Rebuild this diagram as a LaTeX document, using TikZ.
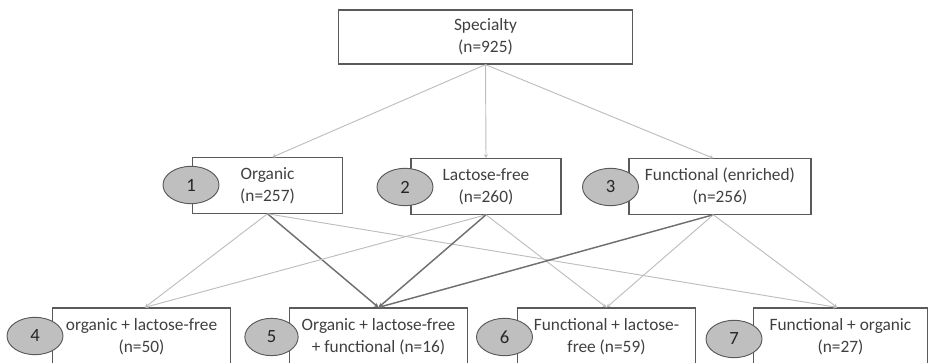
\documentclass[tikz,border=0pt]{standalone}
\usepackage{fontspec}
\setmainfont{Carlito}
\usetikzlibrary{shapes.geometric,arrows.meta}
\definecolor{txt}{HTML}{404040}
\definecolor{boxline}{HTML}{5A5A5A}
\definecolor{lightcon}{HTML}{BDBDBD}
\definecolor{darkcon}{HTML}{707070}
\definecolor{ellfill}{HTML}{BFBFBF}
\begin{document}
\begin{tikzpicture}[x=0.75pt,y=-0.75pt,
  catbox/.style={draw=boxline,line width=0.9pt,fill=white,align=center,text=txt,
    font=\fontsize{13}{16.3}\selectfont,inner sep=0pt,minimum height=41.5pt},
  numell/.style={ellipse,draw=boxline,line width=0.7pt,fill=ellfill,inner sep=0pt,
    minimum width=42pt,minimum height=28pt,font=\fontsize{14}{16}\selectfont,text=black!85},
  lcon/.style={draw=lightcon,line width=0.7pt,-{Stealth[length=3pt,width=3pt]}},
  dcon/.style={draw=darkcon,line width=1.1pt,-{Stealth[length=3.5pt,width=3.5pt]}}]
\useasboundingbox (0,0) rectangle (930,363);
\clip (0,0) rectangle (930,363);
% top
\node[catbox,minimum width=221pt,minimum height=40.5pt] (spec) at (485.5,37) {Specialty\\(n=925)};
% middle
\node[catbox,minimum width=112pt] (org) at (267.5,185.5) {Organic\\(n=257)};
\node[catbox,minimum width=112.5pt] (lac) at (486,186.5) {Lactose-free\\(n=260)};
\node[catbox,minimum width=136.5pt] (fun) at (720,186.5) {Functional (enriched)\\(n=256)};
% bottom
\node[catbox,minimum width=133pt,minimum height=43.5pt] (b4) at (141.5,337) {organic + lactose-free\\(n=50)};
\node[catbox,minimum width=133pt,minimum height=43.5pt] (b5) at (378.5,337) {Organic + lactose-free\\+ functional (n=16)};
\node[catbox,minimum width=133pt,minimum height=43.5pt] (b6) at (606.5,337) {Functional + lactose-\\free (n=59)};
\node[catbox,minimum width=131pt,minimum height=43.5pt] (b7) at (840.5,337) {Functional + organic\\(n=27)};
% ellipses
\node[numell] (e1) at (191,185) {1};
\node[numell] (e2) at (405,187) {2};
\node[numell] (e3) at (610.5,187) {3};
\node[numell] (e4) at (35,336) {4};
\node[numell,minimum width=40pt] (e5) at (271.5,337) {5};
\node[numell] (e6) at (504.5,337) {6};
\node[numell] (e7) at (734,339) {7};
% connectors top -> middle
\draw[lcon] (spec.south) -- ([xshift=3.5pt]org.north);
\draw[lcon] (spec.south) -- (lac.north);
\draw[lcon] (spec.south) -- ([xshift=-5pt]fun.north);
% middle -> bottom
\draw[lcon] (org.south) -- ([xshift=2.5pt]b4.north);
\draw[dcon] (org.south) -- (b5.north);
\draw[lcon] (org.south) -- ([xshift=-2.5pt]b7.north);
\draw[lcon] (lac.south) -- ([xshift=2.5pt]b4.north);
\draw[dcon] (lac.south) -- (b5.north);
\draw[lcon] (lac.south) -- (b6.north);
\draw[dcon] ([xshift=-5pt]fun.south) -- (b5.north);
\draw[lcon] ([xshift=-5pt]fun.south) -- (b6.north);
\draw[lcon] ([xshift=-5pt]fun.south) -- ([xshift=-2.5pt]b7.north);
\end{tikzpicture}
\end{document}
